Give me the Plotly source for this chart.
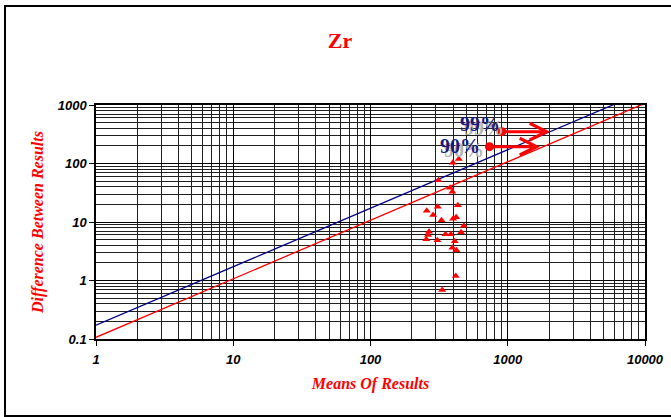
import math
import plotly.graph_objects as go

# Duplicate-analysis results for Zr: mean of the pair vs absolute difference
means = [398, 440, 313, 380, 395, 257, 309, 433, 286, 329, 400, 421, 479,
         267, 262, 255, 352, 385, 457, 307, 411, 395, 423, 418, 333]
diffs = [103, 119, 51.6, 38.5, 33, 15.6, 18.3, 19.3, 13.2, 10.7, 11.4, 12.0, 8.65,
         6.82, 6.0, 5.06, 6.17, 6.17, 6.67, 4.86, 4.68, 3.64, 3.28, 1.19, 0.69]

# Precision control lines (difference proportional to mean)
line_x = [1, 10000]
p90_y = [0.107, 1070]
p99_y = [0.172, 1720]

# Percentile labels with their pointer arrows
pct_labels = ["99%", "90%"]
label_x = [624, 450]
label_y = [470, 202]
dot_x = [906, 736]
dot_y = [350, 194]
tip_x = [2037, 1722]

tick_vals_x = [1, 10, 100, 1000, 10000]
tick_vals_y = [0.1, 1, 10, 100, 1000]
tick_text_x = ["1", "10", "100", "1000", "10000"]
tick_text_y = ["0.1", "1", "10", "100", "1000"]

RED = "#ff0000"
NAVY = "#000080"
SERIF = "Liberation Serif, Times New Roman, serif"
SANS = "Liberation Sans, Arial, sans-serif"

fig = go.Figure()

fig.add_trace(go.Scatter(x=line_x, y=p99_y, mode="lines",
                         line=dict(color=NAVY, width=1.3), hoverinfo="skip"))
fig.add_trace(go.Scatter(x=line_x, y=p90_y, mode="lines",
                         line=dict(color=RED, width=1.3), hoverinfo="skip"))
fig.add_trace(go.Scatter(x=means, y=diffs, mode="markers",
                         marker=dict(symbol="triangle-up", size=7, color=RED,
                                     line=dict(width=0))))
fig.add_trace(go.Scatter(x=dot_x, y=dot_y, mode="markers",
                         marker=dict(symbol="circle", size=9, color=RED,
                                     line=dict(width=0)), cliponaxis=False))

annotations = []
for lab, lx, ly, dx, dy, tx in zip(pct_labels, label_x, label_y, dot_x, dot_y, tip_x):
    # label with a grey drop shadow
    annotations.append(dict(x=math.log10(lx), y=math.log10(ly), xref="x", yref="y",
                            text=f"<b>{lab}</b>", showarrow=False,
                            font=dict(family=SERIF, size=20, color="#1a1a7a",
                                      shadow="4px 4px 0px #b4b4b4")))
    # arrow from the dot towards larger means
    annotations.append(dict(x=math.log10(tx), y=math.log10(dy), xref="x", yref="y",
                            ax=math.log10(dx), ay=math.log10(dy), axref="x", ayref="y",
                            text="", showarrow=True, arrowhead=5, arrowsize=1.1,
                            arrowwidth=3, arrowcolor=RED, standoff=0, startstandoff=0))

fig.update_layout(
    width=671, height=417,
    margin=dict(l=96, r=26, t=105, b=78, autoexpand=False),
    paper_bgcolor="white", plot_bgcolor="white",
    showlegend=False,
    title=dict(text="<b>Zr</b>", x=340 / 671, xanchor="center",
               y=1 - 40 / 417, yanchor="middle",
               font=dict(family=SERIF, size=22, color=RED)),
    annotations=annotations,
    shapes=[dict(type="rect", xref="paper", yref="paper",
                 x0=(5 - 96) / 549, x1=(680 - 96) / 549,
                 y0=(339 - 416) / 234, y1=(339 - 6) / 234,
                 line=dict(color="black", width=2), fillcolor="rgba(0,0,0,0)",
                 layer="below")],
)

fig.update_xaxes(
    type="log", range=[0, 4],
    tickvals=tick_vals_x, ticktext=tick_text_x,
    ticks="outside", ticklen=5, tickcolor="black", tickwidth=1,
    ticklabelstandoff=3,
    showgrid=True, gridcolor="black", gridwidth=1,
    minor=dict(dtick="D1", showgrid=True, gridcolor="#202020", gridwidth=1, ticks=""),
    showline=True, linecolor="black", linewidth=1.5, mirror=True,
    zeroline=False,
    tickfont=dict(family=SANS, size=13, color="black", weight="bold", style="italic"),
    title=dict(text="<b><i>Means Of Results</i></b>", standoff=11,
               font=dict(family=SERIF, size=16, color=RED)),
)
fig.update_yaxes(
    type="log", range=[-1, 3],
    tickvals=tick_vals_y, ticktext=tick_text_y,
    ticks="outside", ticklen=5, tickcolor="black", tickwidth=1,
    showgrid=True, gridcolor="black", gridwidth=1,
    minor=dict(dtick="D1", showgrid=True, gridcolor="#202020", gridwidth=1, ticks=""),
    showline=True, linecolor="black", linewidth=1.5, mirror=True,
    zeroline=False,
    tickfont=dict(family=SANS, size=13, color="black", weight="bold", style="italic"),
    title=dict(text="<b><i>Difference Between Results</i></b>", standoff=10,
               font=dict(family=SERIF, size=16, color=RED)),
)

fig.write_html("out.html")
